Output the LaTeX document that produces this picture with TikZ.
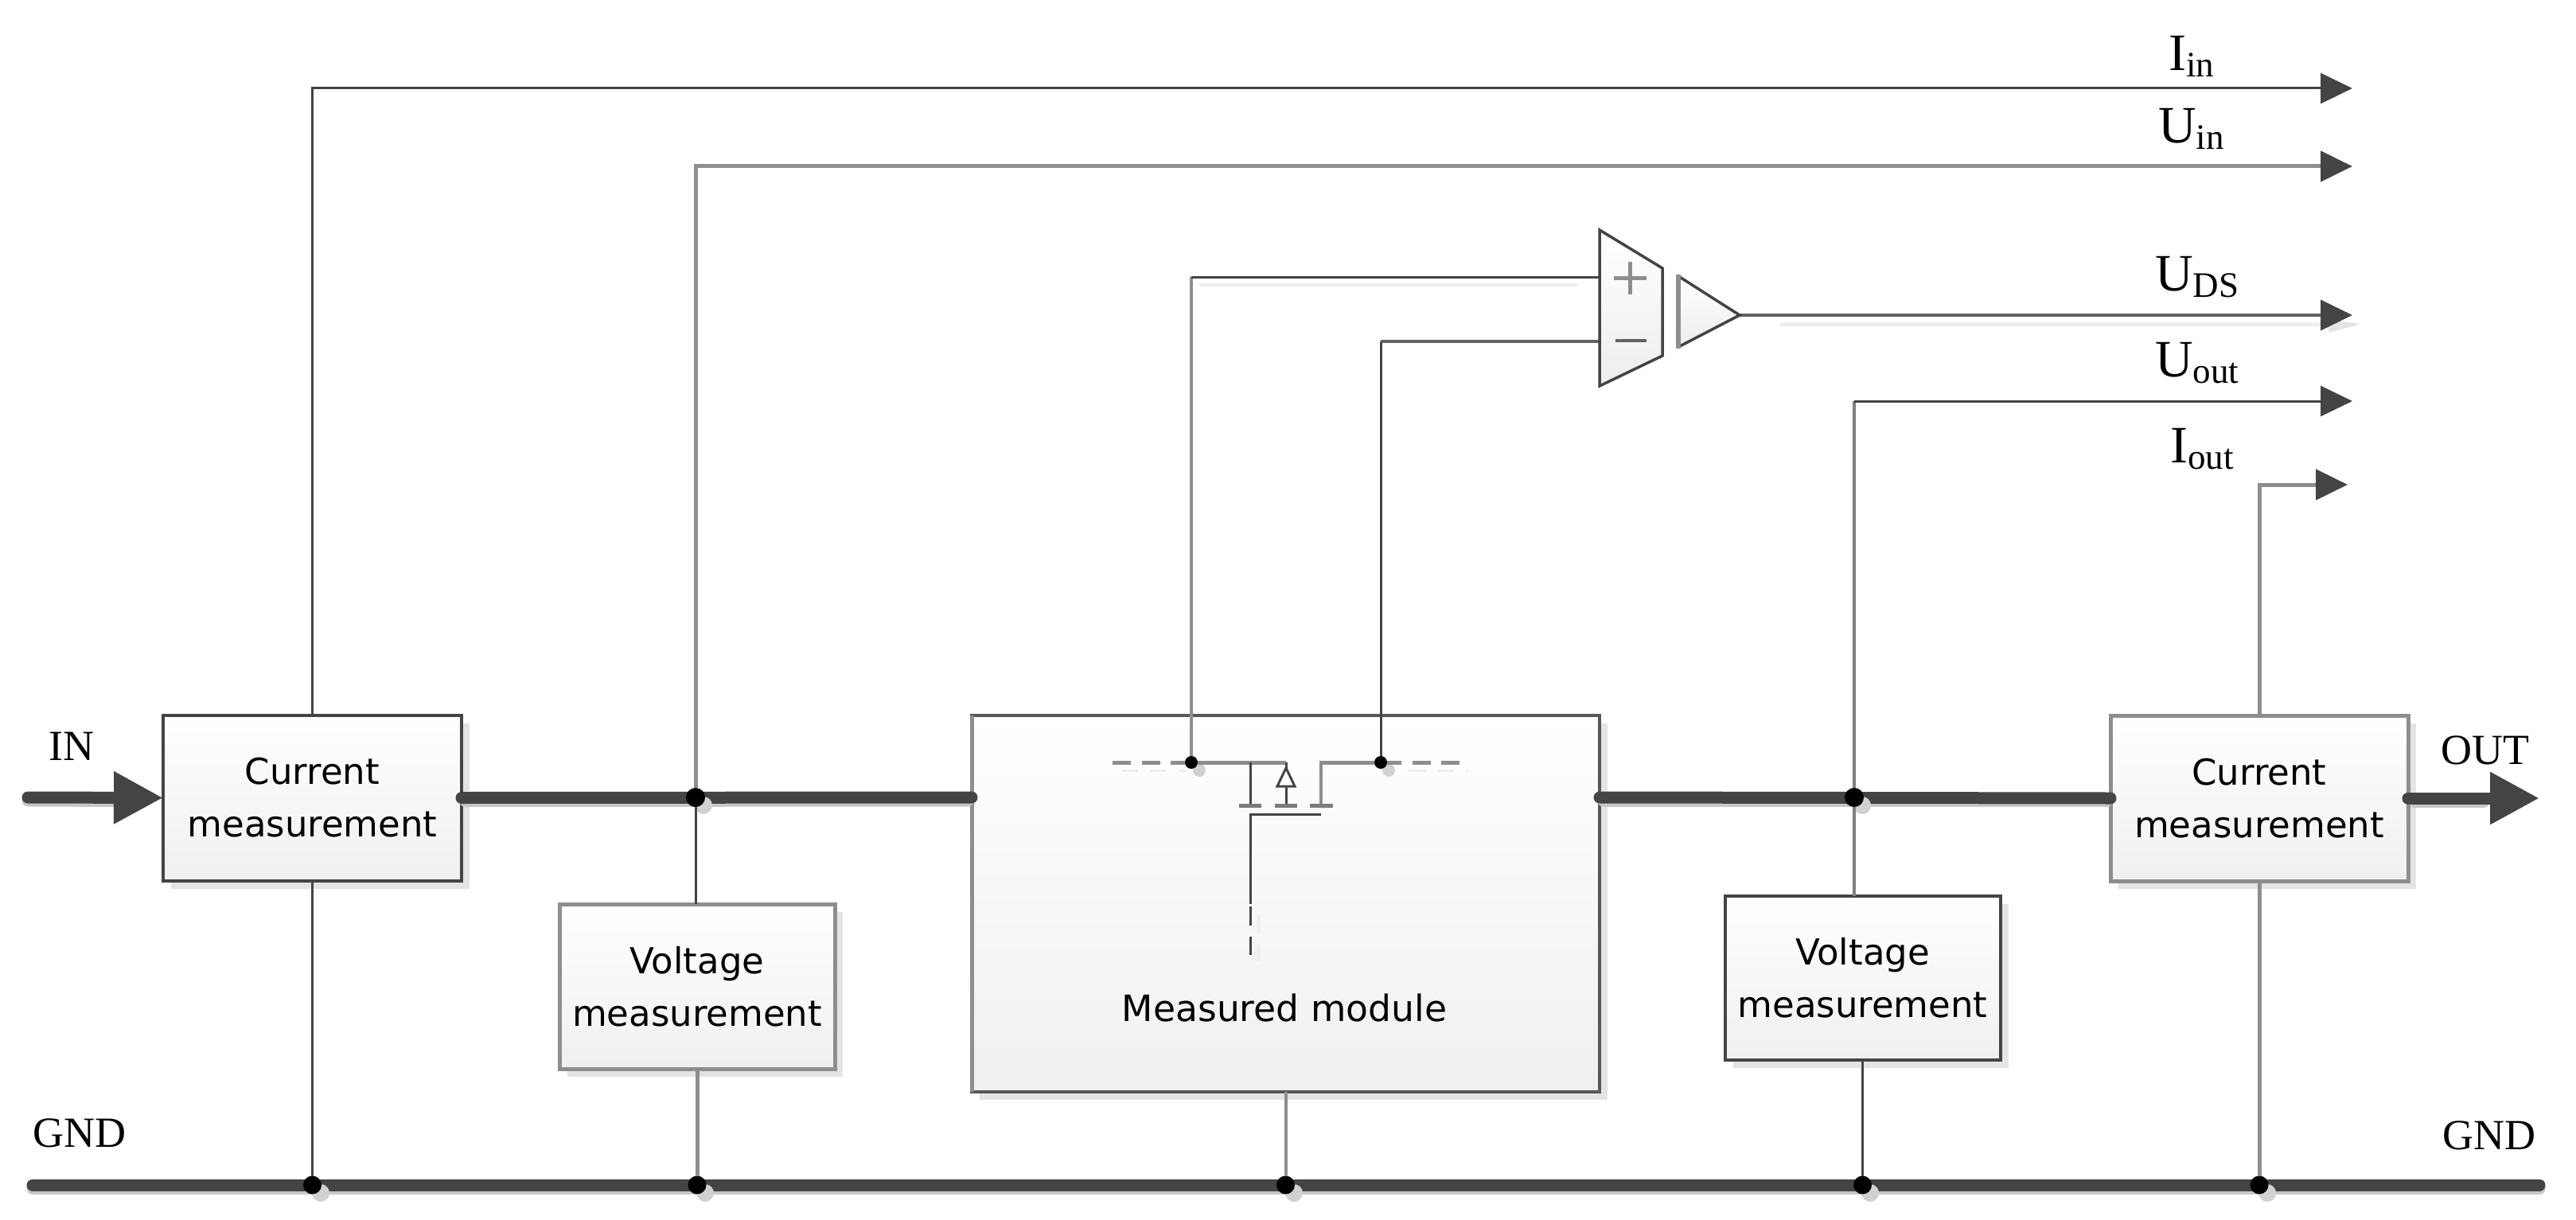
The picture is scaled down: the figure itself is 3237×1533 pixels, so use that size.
\documentclass[tikz,border=0pt]{standalone}
\usepackage{fontspec}
\setmainfont{Liberation Serif}
\newfontfamily\boxfont{DejaVu Sans}
\usetikzlibrary{arrows.meta,shadows,calc}
\definecolor{dk}{HTML}{444444}
\definecolor{gr}{HTML}{8E8E8E}
\definecolor{sh}{HTML}{E4E4E4}
\definecolor{lsh}{HTML}{EEEEEE}
\newcommand\lab[2]{#1\raisebox{-8pt}{\fontsize{45}{45}\selectfont #2}}
\tikzset{
  x=1pt,y=-1pt,
  box/.style={draw=#1,rectangle,inner sep=0pt,outer sep=0pt,top color=white,bottom color=black!6,
    general shadow={fill=sh,shadow xshift=10pt,shadow yshift=-10pt},
    align=center,font=\boxfont\fontsize{45}{66}\selectfont},
  bd/.style={box=dk,line width=4pt},
  bg/.style={box=gr,line width=5pt},
  big/.style={anchor=base west,inner sep=0pt,font=\fontsize{54}{60}\selectfont},
  sig/.style={anchor=base west,inner sep=0pt,font=\fontsize{66}{70}\selectfont},
  dl/.style={draw=dk,line width=3pt},
  gl/.style={draw=gr,line width=5pt},
  tip/.style={-{Triangle[length=40pt,width=38pt,color=dk,fill=dk]}},
  power/.style={draw=dk,line width=15pt,line cap=round},
  powersh/.style={draw=black!22,line width=15pt,line cap=round},
  fat/.style={-{Triangle[length=62pt,width=62pt,color=dk,fill=dk]}},
  dot/.style={circle,fill=black,inner sep=0pt,outer sep=0pt,minimum size=#1},
  dotsh/.style={circle,fill=black!18,inner sep=0pt,minimum size=#1},
}
\begin{document}
\begin{tikzpicture}
\useasboundingbox[fill=white] (0,0) rectangle (3237,1533);
% blocks
\node[bd,minimum width=375pt,minimum height=208pt] (cur1) at (392.5,1002.5) {Current\\measurement};
\node[bg,minimum width=346pt,minimum height=207pt] (volt1) at (876,1239.5) {Voltage\\measurement};
\node[box=dk!90!white,line width=4pt,minimum width=789pt,minimum height=473pt] (mod) at (1615.5,1135) {};
\node[bd,minimum width=346pt,minimum height=206pt] (volt2) at (2340.5,1229) {Voltage\\measurement};
\node[bg,minimum width=374pt,minimum height=208pt] (cur2) at (2839,1003) {Current\\measurement};
\node[anchor=base,inner sep=0pt,font=\boxfont\fontsize{45.6}{60}\selectfont] (modlabel) at (1614,1283) {Measured module};
\draw[gl] (mod.north west) -- (mod.south west);
% free ends and junctions
\coordinate (in) at (35,1002);
\coordinate (out) at (3191,1003);
\coordinate (gl) at (41,1489);
\coordinate (gr) at (3191,1489);
\coordinate (Iin) at (2956,111);
\coordinate (Uin) at (2956,209);
\coordinate (Uds) at (2956,396);
\coordinate (Uout) at (2956,504);
\coordinate (Iout) at (2950,609);
\coordinate (ip) at (2010,348);
\coordinate (im) at (2010,429);
\coordinate (ao) at (2186,396);
\coordinate (j1) at (874,1002);
\coordinate (j2) at (2330,1002);
\coordinate (dld) at (1497,958);
\coordinate (drd) at (1735,958);
\coordinate (mw) at (mod.west |- j1);
\coordinate (me) at (mod.east |- j1);
% soft shadows of the conductors
\draw[powersh] ($(in)+(0,4)$) -- ($(cur1.west)+(-50,4)$);
\draw[powersh] ($(cur1.east)+(5,4)$) -- ($(mw)+(-5,4)$);
\draw[powersh] ($(me)+(5,4)$) -- ($(cur2.west)+(-5,3)$);
\draw[powersh] ($(cur2.east)+(8,4)$) -- ($(out)+(-70,4)$);
\draw[powersh] ($(gl)+(0,4)$) -- ($(gr)+(0,4)$);
\draw[lsh,line width=4pt] (1507,358) -- (1982,358);
\draw[lsh,line width=5pt] (2237,407) -- (2960,407);
\fill[sh] (2926,402) -- (2966,407) -- (2926,418) -- cycle;
% power rails
\draw[power,fat] (in) -- (cur1.west);
\draw[power] (cur1.east) -- (mw);
\draw[power] (me) -- (cur2.west);
\draw[power,fat] (cur2.east) -- (out);
\draw[power] (gl) -- (gr);
% dot shadows
\foreach \p in {393,876,1616,2340,2839} \node[dotsh=22pt] at (\p+10,1499) {};
\foreach \p in {874,2330} \node[dotsh=22pt] at (\p+10,1012) {};
\node[dotsh=16pt] at (1507,968) {};
\node[dotsh=16pt] at (1745,968) {};
% junction dots
\node[dot=24pt] (d1) at (j1) {};
\node[dot=24pt] (d2) at (j2) {};
\node[dot=23pt] (g1) at (cur1.south |- gl) {};
\node[dot=23pt] (g2) at (volt1.south |- gl) {};
\node[dot=23pt] (g3) at (mod.south |- gl) {};
\node[dot=23pt] (g4) at (volt2.south |- gl) {};
\node[dot=23pt] (g5) at (cur2.south |- gl) {};
\node[dot=16pt] (sl) at (dld) {};
\node[dot=16pt] (sr) at (drd) {};
% measurement connections
\draw[dl,tip] (cur1.north) |- (Iin);
\draw[gl,tip] (d1) -- (d1 |- Uin) -- (Uin);
\draw[dl] (d1) -- (d1 |- volt1.north);
\draw[dl] (cur1.south) -- (g1);
\draw[gl] (volt1.south) -- (g2);
\draw[gr,line width=4pt] (mod.south) -- (g3);
\draw[dl] (volt2.south) -- (g4);
\draw[gl] (cur2.south) -- (g5);
\draw[gr!90!black,line width=4pt] (d2) -- (d2 |- volt2.north);
\draw[gr!90!black,line width=4pt] (d2) -- (d2 |- Uout);
\draw[dl,tip] (d2 |- Uout) -- (Uout);
\draw[gl,tip] (cur2.north) |- (Iout);
\draw[gr,line width=4pt] (sl) -- (sl |- ip);
\draw[dl] (sl |- ip) -- (ip);
\draw[dl] (sr) -- (sr |- im);
\draw[gr!70!black,line width=4.5pt] (sr |- im) -- (im);
\draw[gr!70!black,line width=4pt,tip] (ao) -- (Uds);
% differential stage and amplifier
\draw[dk,line width=3.5pt,top color=white,bottom color=black!7] (2010,289) -- (2089,337) -- (2089,447) -- (2010,485) -- cycle;
\draw[gr,line width=5pt] (2028,349) -- (2069,349) (2048,329) -- (2048,370);
\draw[gr!70!black,line width=4.5pt] (2030,428) -- (2069,428);
\draw[dk,line width=3.5pt,top color=white,bottom color=black!7] (2109,347) -- (ao) -- (2109,436);
\draw[gr,line width=6pt] (2109,345) -- (2109,438);
% transistor shadow
\draw[lsh,line width=3pt,dash pattern=on 21pt off 15pt] (1409,968) -- (1490,968);
\draw[lsh,line width=3pt,dash pattern=on 21pt off 15pt] (1770,968) -- (1845,968);
\draw[lsh,line width=5pt] (1581,1150) -- (1581,1172) (1581,1187) -- (1581,1208);
% transistor
\draw[gl,dash pattern=on 23pt off 13.5pt] (1398,958) -- (sl);
\draw[gl,dash pattern=on 23pt off 13.5pt] (1834,958) -- (sr);
\draw[gl] (sl) -- (1616,958);
\draw[gl] (sr) -- (1660,958);
\draw[gr,line width=4pt] (1660,956) -- (1660,1012);
\draw[dl] (1571,958) -- (1571,1012);
\draw[dl] (1616,958) -- (1616,965);
\draw[dl,fill=white] (1616,965) -- (1627,988) -- (1605,988) -- cycle;
\draw[dl] (1616,988) -- (1616,1012);
\draw[dk!70!white,line width=5pt] (1557,1012) -- (1585,1012) (1602,1012) -- (1630,1012) (1646,1012) -- (1675,1012);
\draw[dl] (1660,1023) -- (1571,1023) -- (1571,1136);
\draw[dl] (1571,1139) -- (1571,1163) (1571,1177) -- (1571,1200);
% labels
\node[big] (lin) at (61,955) {IN};
\node[big] (lout) at (3067,960) {OUT};
\node[big] (lg1) at (41,1441.5) {GND};
\node[big] (lg2) at (3069,1444.5) {GND};
\node[sig] (l1) at (2725,89) {\lab{I}{in}};
\node[sig] (l2) at (2712,180) {\lab{U}{in}};
\node[sig] (l3) at (2708,365) {\lab{U}{DS}};
\node[sig] (l4) at (2708,473) {\lab{U}{out}};
\node[sig] (l5) at (2727,581.5) {\lab{I}{out}};
\end{tikzpicture}
\end{document}
